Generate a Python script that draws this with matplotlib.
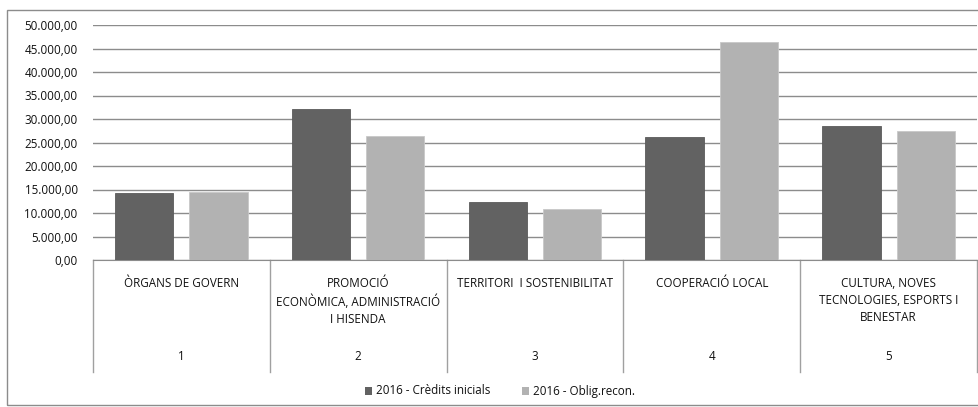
import matplotlib
matplotlib.use("Agg")
import matplotlib.pyplot as plt
import numpy as np
from matplotlib.patches import Rectangle

plt.rcParams["font.family"] = ["Open Sans", "DejaVu Sans"]

categories = [
    "ÒRGANS DE GOVERN",
    "PROMOCIÓ\nECONÒMICA, ADMINISTRACIÓ\nI HISENDA",
    "TERRITORI  I SOSTENIBILITAT",
    "COOPERACIÓ LOCAL",
    "CULTURA, NOVES\nTECNOLOGIES, ESPORTS I\nBENESTAR",
]
codes = ["1", "2", "3", "4", "5"]
series_names = ["2016 - Crèdits inicials", "2016 - Oblig.recon."]
credits_inicials = [14300, 32050, 12350, 26200, 28450]
oblig_recon = [14400, 26450, 10900, 46450, 27400]
y_ticks = [0, 5000, 10000, 15000, 20000, 25000, 30000, 35000, 40000, 45000, 50000]

dark = "#626262"
light = "#b2b2b2"
grid_c = "#8c8c8c"
text_c = "#111111"
fs = 8.4

W, H = 979, 407
fig = plt.figure(figsize=(W / 100, H / 100), dpi=100)
ax = fig.add_axes([93 / W, (H - 260) / H, (977 - 93) / W, 235 / H])

x = np.arange(len(categories))
bw = 0.33
ax.bar(x - 0.21, credits_inicials, bw, color=dark, edgecolor="#5a5a5a", linewidth=0.6, zorder=3)
ax.bar(x + 0.21, oblig_recon, bw, color=light, edgecolor="#c8c8c8", linewidth=0.6, zorder=3)

ax.set_xlim(-0.5, len(categories) - 0.5)
ax.set_ylim(0, 50000)
ax.set_yticks(y_ticks)
ax.set_yticklabels([f"{v:,.2f}".replace(",", "X").replace(".", ",").replace("X", ".") for v in y_ticks],
                   fontsize=fs, color=text_c)
ax.tick_params(axis="y", length=0, pad=11)
ax.set_xticks([])
ax.yaxis.grid(True, color=grid_c, linewidth=1)
ax.set_axisbelow(True)
for s in ["top", "right", "left"]:
    ax.spines[s].set_visible(False)
ax.spines["bottom"].set_color(grid_c)

# multi-level category axis
tr = ax.get_xaxis_transform()
bottom = (260 - 372) / 235
for i in range(len(categories) + 1):
    ax.plot([i - 0.5, i - 0.5], [0, bottom], transform=tr, color="#a0a0a0", lw=1, clip_on=False)
for i, (c, n) in enumerate(zip(categories, codes)):
    ax.text(i, (260 - 277) / 235, c, transform=tr, ha="center", va="top", fontsize=fs,
            color=text_c, linespacing=1.4, clip_on=False)
    ax.text(i, (260 - 356) / 235, n, transform=tr, ha="center", va="center", fontsize=fs,
            color=text_c, clip_on=False)

# legend
ly = (H - 391) / H
fig.patches.append(Rectangle((365 / W, ly - 4 / H), 7 / W, 8 / H, transform=fig.transFigure,
                             facecolor=dark, edgecolor="none"))
fig.text(376 / W, ly, series_names[0], fontsize=fs, color=text_c, va="center")
fig.patches.append(Rectangle((522 / W, ly - 4 / H), 7 / W, 8 / H, transform=fig.transFigure,
                             facecolor=light, edgecolor="none"))
fig.text(533 / W, ly, series_names[1], fontsize=fs, color=text_c, va="center")

# outer chart border
fig.patches.append(Rectangle((7 / W, 2 / H), 975 / W, (H - 12) / H, transform=fig.transFigure,
                             facecolor="none", edgecolor="#8c8c8c", lw=1))

fig.savefig("out.png", dpi=100)
